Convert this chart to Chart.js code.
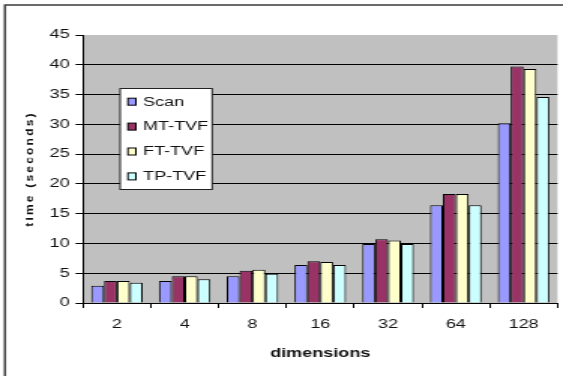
<!DOCTYPE html>
<html>
<head>
<meta charset="utf-8">
<title>time vs dimensions</title>
<script src="https://cdn.jsdelivr.net/npm/chart.js@4"></script>
<style>
  html, body { margin: 0; padding: 0; background: #fff; overflow: hidden; }
  /* drawn narrow, shown wide: glyphs and bars come out broad like the old chart */
  #wrap { width: 375px; height: 376px; transform: scaleX(1.50133); transform-origin: 0 0; }
  #c { display: block; }
</style>
</head>
<body>
<div id="wrap"><canvas id="c" width="375" height="376"></canvas></div>
<script>
const categories = ['2', '4', '8', '16', '32', '64', '128'];
const seriesNames = ['Scan', 'MT-TVF', 'FT-TVF', 'TP-TVF'];
const scan   = [2.9, 3.7, 4.5, 6.4, 9.9, 16.4, 30.2];
const mtTvf  = [3.7, 4.5, 5.4, 7.0, 10.7, 18.3, 39.7];
const ftTvf  = [3.7, 4.5, 5.6, 6.9, 10.5, 18.3, 39.3];
const tpTvf  = [3.4, 4.0, 4.9, 6.4, 9.9, 16.4, 34.6];
const yTicks = [0, 5, 10, 15, 20, 25, 30, 35, 40, 45];
const xTitle = 'dimensions';
const yTitle = 'time (seconds)';

const colors = ['#9999FF', '#993366', '#FFFFCC', '#CCFFFF'];
const FONT = "'Liberation Sans', Arial, sans-serif";
const SX = 563 / 375; // horizontal display stretch of the canvas

Chart.defaults.font.family = FONT;
Chart.defaults.font.size = 12;
Chart.defaults.color = '#111';

// page background, outer frame and the grey plot area
const backdrop = {
  id: 'backdrop',
  beforeDraw(chart) {
    const { ctx, chartArea: a, width, height } = chart;
    ctx.save();
    ctx.fillStyle = '#fff';
    ctx.fillRect(0, 0, width, height);
    ctx.fillStyle = '#C0C0C0';
    ctx.fillRect(a.left, a.top, a.right - a.left, a.bottom - a.top);
    ctx.strokeStyle = '#3a3a3a';
    ctx.lineWidth = 1.5;
    ctx.beginPath();
    ctx.moveTo(3.3, height);
    ctx.lineTo(3.3, 5);
    ctx.lineTo(width, 5);
    ctx.stroke();
    ctx.restore();
  }
};

// vertical axis title (kept upright-proportioned despite the stretch) and boxed legend
const overlay = {
  id: 'overlay',
  afterDraw(chart) {
    const { ctx, chartArea: a } = chart;
    ctx.save();
    ctx.translate(19.3, (a.top + a.bottom) / 2);
    ctx.scale(1 / SX, 1);
    ctx.rotate(-Math.PI / 2);
    ctx.font = 'bold 12px ' + FONT;
    ctx.fillStyle = '#111';
    ctx.textAlign = 'center';
    ctx.textBaseline = 'middle';
    if ('letterSpacing' in ctx) ctx.letterSpacing = '2.2px';
    ctx.fillText(yTitle, 0, 0);
    ctx.restore();

    // legend box
    const bx = 80, by = 88.5, bw = 61.3, bh = 101;
    ctx.save();
    ctx.fillStyle = '#fff';
    ctx.fillRect(bx, by, bw, bh);
    ctx.strokeStyle = '#222';
    ctx.lineWidth = 1;
    ctx.strokeRect(bx, by, bw, bh);
    ctx.font = '12px ' + FONT;
    ctx.textAlign = 'left';
    ctx.textBaseline = 'middle';
    chart.data.datasets.forEach((ds, i) => {
      const cy = 101.7 + i * 24.9;
      ctx.fillStyle = ds.backgroundColor;
      ctx.fillRect(85.2, cy - 3.5, 5.3, 7);
      ctx.strokeStyle = '#000';
      ctx.strokeRect(85.2, cy - 3.5, 5.3, 7);
      ctx.fillStyle = '#111';
      ctx.fillText(ds.label, 95.3, cy + 0.5);
    });
    ctx.restore();
  }
};

const values = [scan, mtTvf, ftTvf, tpTvf];

new Chart(document.getElementById('c'), {
  type: 'bar',
  data: {
    labels: categories,
    datasets: seriesNames.map((name, i) => ({
      label: name,
      data: values[i],
      backgroundColor: colors[i],
      borderColor: '#000',
      borderWidth: 1,
      categoryPercentage: 0.76,
      barPercentage: 1.0
    }))
  },
  options: {
    responsive: false,
    devicePixelRatio: 1,
    animation: false,
    layout: { padding: { left: 3, right: 3.7, top: 35, bottom: 0 } },
    plugins: { legend: { display: false }, tooltip: { enabled: false } },
    scales: {
      x: {
        grid: {
          display: true,
          drawOnChartArea: false,
          drawTicks: true,
          tickLength: 5,
          color: '#000',
          tickColor: '#000',
          offset: true
        },
        border: { display: true, color: '#000', width: 1 },
        ticks: { padding: 9, color: '#111', font: { size: 12 } },
        title: {
          display: true,
          text: xTitle,
          color: '#111',
          font: { size: 12, weight: 'bold' },
          padding: { top: 0, bottom: 15 }
        },
        afterFit(scale) { scale.height = 73; }
      },
      y: {
        min: 0,
        max: 45,
        afterBuildTicks(scale) { scale.ticks = yTicks.map(v => ({ value: v })); },
        grid: {
          color: (c) => (c.tick && c.tick.value === 45) ? 'rgba(0,0,0,0)' : '#000',
          tickColor: '#000',
          tickLength: 5,
          lineWidth: 1
        },
        border: { display: true, color: '#000', width: 1 },
        ticks: { padding: 4, color: '#111', font: { size: 12 } },
        afterFit(scale) { scale.width = 52.3; }
      }
    }
  },
  plugins: [backdrop, overlay]
});
</script>
</body>
</html>
